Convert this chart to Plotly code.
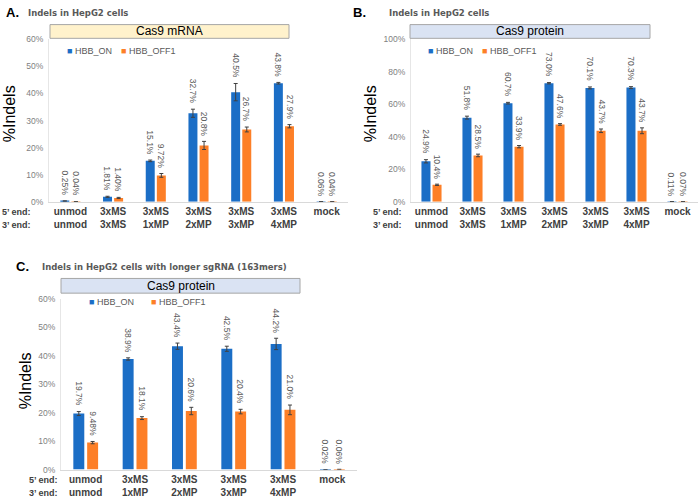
import plotly.graph_objects as go

# ---------------- data ----------------
# Panel A: Cas9 mRNA
a_five = ["unmod", "3xMS", "3xMS", "3xMS", "3xMS", "3xMS", "mock"]
a_three = ["unmod", "3xMS", "1xMP", "2xMP", "3xMP", "4xMP", ""]
a_on = [0.25, 1.81, 15.1, 32.7, 40.5, 43.8, 0.06]
a_on_err = [0.05, 0.2, 0.3, 1.5, 3.2, 0.3, 0.0]
a_off = [0.04, 1.40, 9.72, 20.8, 26.7, 27.9, 0.04]
a_off_err = [0.02, 0.2, 0.7, 1.5, 0.9, 0.6, 0.0]

# Panel B: Cas9 protein
b_five = ["unmod", "3xMS", "3xMS", "3xMS", "3xMS", "3xMS", "mock"]
b_three = ["unmod", "3xMS", "1xMP", "2xMP", "3xMP", "4xMP", ""]
b_on = [24.9, 51.8, 60.7, 73.0, 70.1, 70.3, 0.11]
b_on_err = [1.0, 0.9, 0.5, 0.4, 0.6, 0.6, 0.0]
b_off = [10.4, 28.5, 33.9, 47.6, 43.7, 43.7, 0.07]
b_off_err = [0.4, 0.8, 0.7, 0.5, 1.1, 1.8, 0.0]

# Panel C: Cas9 protein, longer sgRNA
c_five = ["unmod", "3xMS", "3xMS", "3xMS", "3xMS", "mock"]
c_three = ["unmod", "1xMP", "2xMP", "3xMP", "4xMP", ""]
c_on = [19.7, 38.9, 43.4, 42.5, 44.2, 0.02]
c_on_err = [0.7, 0.4, 1.1, 0.9, 2.0, 0.0]
c_off = [9.48, 18.1, 20.6, 20.4, 21.0, 0.06]
c_off_err = [0.4, 0.5, 1.3, 0.8, 1.7, 0.0]

series_names = ["HBB_ON", "HBB_OFF1"]

# ---------------- style ----------------
W, H = 700, 502
FONT = "Liberation Sans, Arial, sans-serif"
BLUE = "#1b6ec6"
ORANGE = "#fd7f27"
GRAY_TXT = "#595959"
ERR_COL = "#404040"


def px(x):
    return x / W


def py(y):
    return 1 - y / H


def fmt(v):
    return f"{v:.2f}%" if v < 1 else f"{v:#.3g}%"


fig = go.Figure()
annotations = []
shapes = []


def add_panel(idx, five, three, on, on_err, off, off_err, ymax, dtick,
              xdom, ytop, ybot, bw, off_on, off_off,
              letter, letter_x, sub, sub_x, title_y,
              banner, banner_fill, bx0, bx1, by0, by1,
              leg_y, leg_on_x, leg_off_x, ytitle_x, ytitle_y,
              row_x):
    xa = "x" if idx == 1 else f"x{idx}"
    ya = "y" if idx == 1 else f"y{idx}"
    n = len(five)
    xs = list(range(n))
    for vals, errs, col, name, off_ in ((on, on_err, BLUE, series_names[0], off_on),
                                         (off, off_err, ORANGE, series_names[1], off_off)):
        fig.add_trace(go.Bar(
            x=xs, y=vals, name=name, xaxis=xa, yaxis=ya,
            width=bw, offset=off_, marker=dict(color=col, line=dict(width=0)),
            error_y=dict(type="data", array=errs, color=ERR_COL, thickness=1, width=2),
            showlegend=False,
        ))
        for i, (v, e) in enumerate(zip(vals, errs)):
            annotations.append(dict(
                x=i + off_ + bw / 2, y=v + e, xref=xa, yref=ya,
                text=fmt(v), textangle=90, showarrow=False,
                xanchor="center", yanchor="bottom", yshift=3,
                font=dict(family=FONT, size=8.5, color=GRAY_TXT),
            ))
    axnum = "" if idx == 1 else str(idx)
    fig.update_layout({
        f"xaxis{axnum}": dict(
            domain=[px(xdom[0]), px(xdom[1])], anchor=ya, range=[-0.5, n - 0.5],
            tickvals=xs, ticktext=[f"{a}<br>{b}" for a, b in zip(five, three)],
            ticks="", showline=True, linecolor="#d9d9d9", linewidth=1,
            showgrid=False, zeroline=False, fixedrange=True,
            tickfont=dict(family=FONT, size=10, color="#404040", weight="bold"),
        ),
        f"yaxis{axnum}": dict(
            domain=[py(ybot), py(ytop)], anchor=xa, range=[0, ymax], dtick=dtick,
            ticksuffix="%", showline=True, linecolor="#e6e6e6", linewidth=1,
            showgrid=False, zeroline=False, ticks="", ticklabelstandoff=3,
            tickfont=dict(family=FONT, size=8.5, color="#7f7f7f"),
        ),
    })
    # panel letter + subtitle
    annotations.append(dict(x=px(letter_x), y=py(title_y), xref="paper", yref="paper",
                            text=letter, showarrow=False, xanchor="left", yanchor="middle",
                            font=dict(family=FONT, size=13, color="black", weight="bold")))
    annotations.append(dict(x=px(sub_x), y=py(title_y), xref="paper", yref="paper",
                            text=sub, showarrow=False, xanchor="left", yanchor="middle",
                            font=dict(family="DejaVu Sans", size=8.5, color=GRAY_TXT,
                                      weight="bold")))
    # banner
    shapes.append(dict(type="rect", xref="paper", yref="paper",
                       x0=px(bx0), x1=px(bx1), y0=py(by1), y1=py(by0),
                       fillcolor=banner_fill, line=dict(color="#a6a6a6", width=1),
                       layer="below"))
    annotations.append(dict(x=px((bx0 + bx1) / 2), y=py((by0 + by1) / 2),
                            xref="paper", yref="paper", text=banner, showarrow=False,
                            xanchor="center", yanchor="middle",
                            font=dict(family=FONT, size=12, color="black")))
    # legend entries
    for name, col, lx in ((series_names[0], BLUE, leg_on_x), (series_names[1], ORANGE, leg_off_x)):
        annotations.append(dict(x=px(lx), y=py(leg_y), xref="paper", yref="paper",
                                text=f"<span style='color:{col}'>■</span> {name}",
                                showarrow=False, xanchor="left", yanchor="middle",
                                font=dict(family=FONT, size=9, color=GRAY_TXT)))
    # y title
    annotations.append(dict(x=px(ytitle_x), y=py(ytitle_y), xref="paper", yref="paper",
                            text="%Indels", textangle=-90, showarrow=False,
                            xanchor="center", yanchor="middle",
                            font=dict(family=FONT, size=16, color="black")))
    # row labels
    for txt, dy in (("5’ end:", 10.5), ("3’ end:", 24)):
        annotations.append(dict(x=px(row_x), y=py(ybot + dy), xref="paper", yref="paper",
                                text=txt, showarrow=False, xanchor="right", yanchor="middle",
                                font=dict(family=FONT, size=9, color="#404040",
                                          weight="bold")))


add_panel(1, a_five, a_three, a_on, a_on_err, a_off, a_off_err, 60, 10,
          (49, 348), 35.1, 200.7, 0.21, -0.235, 0.025,
          "A.", 4, "Indels in HepG2 cells", 26, 8,
          "Cas9 mRNA", "#fff2cc", 50, 289, 20, 34,
          47, 65, 119, 9, 111.5, 33)

add_panel(2, b_five, b_three, b_on, b_on_err, b_off, b_off_err, 100, 20,
          (411, 698), 35.1, 200.7, 0.22, -0.245, 0.025,
          "B.", 351, "Indels in HepG2 cells", 387, 8,
          "Cas9 protein", "#dae3f3", 410, 650, 20, 34,
          47, 426, 480, 370, 111.5, 404)

add_panel(3, c_five, c_three, c_on, c_on_err, c_off, c_off_err, 60, 10,
          (61, 357), 300, 474, 0.222, -0.25, 0.03,
          "C.", 14, "Indels in HepG2 cells with longer sgRNA (163mers)", 40, 267,
          "Cas9 protein", "#dae3f3", 61, 300, 279, 294,
          303, 87, 149, 25, 384, 60)

fig.update_layout(
    width=W, height=H, autosize=False,
    margin=dict(l=0, r=0, t=0, b=0),
    paper_bgcolor="white", plot_bgcolor="white",
    barmode="overlay", showlegend=False,
    annotations=annotations, shapes=shapes,
    font=dict(family=FONT),
)

fig.write_html(
    "out.html",
    config={"displayModeBar": False},
    post_script="document.body.style.margin='0';document.body.style.overflow='hidden';",
)
